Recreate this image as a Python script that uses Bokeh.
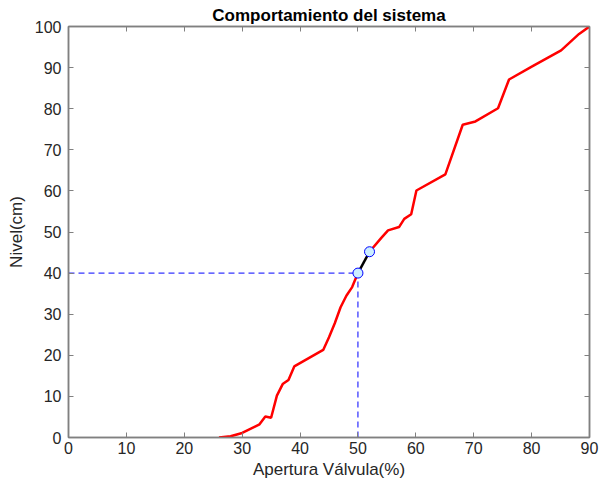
from bokeh.plotting import figure
from bokeh.models import LinearAxis, Range1d, FixedTicker
from bokeh.embed import file_html
from bokeh.resources import INLINE

apertura = [26, 28, 30, 33, 34, 35, 36, 37, 38, 39, 44, 45, 46, 47, 48, 49, 50]
nivel = [0, 0.3, 1.1, 3.2, 5.1, 4.8, 10.2, 13.0, 14.0, 17.3, 21.3, 24.4, 27.8, 31.7, 34.5, 36.6, 40.0]
apertura2 = [52, 54, 55.2, 57.1, 58, 59.2, 60.1, 65.1, 68.1, 70.3, 74.2, 76.1, 80.1, 85.1, 88.2, 90]
nivel2 = [45.2, 48.5, 50.4, 51.2, 53.2, 54.3, 60.1, 64.0, 76.1, 76.9, 80.1, 87.1, 90.3, 94.2, 98.2, 100]
punto_x = [50, 52]
punto_y = [40, 45.2]
ref_x = 50
ref_y = 40
xticks = [0, 10, 20, 30, 40, 50, 60, 70, 80, 90]
yticks = [0, 10, 20, 30, 40, 50, 60, 70, 80, 90, 100]

FONT = "Liberation Sans"
TXT = "#262626"
AX = "#808080"

p = figure(width=599, height=488, output_backend="svg", toolbar_location=None,
           x_range=Range1d(0, 90), y_range=Range1d(0, 100),
           title="Comportamiento del sistema",
           min_border_left=68, min_border_right=10, min_border_top=26, min_border_bottom=51)

p.title.align = "center"
p.title.text_font = FONT
p.title.text_font_size = "17px"
p.title.text_font_style = "bold"
p.title.text_color = "#000000"
p.title.offset = 0
p.title.standoff = 3

p.xgrid.visible = False
p.ygrid.visible = False
p.outline_line_color = AX
p.outline_line_width = 1.5

for ax, ticks in ((p.xaxis[0], xticks), (p.yaxis[0], yticks)):
    ax.ticker = FixedTicker(ticks=ticks)
    ax.axis_line_color = AX
    ax.axis_line_width = 1.5
    ax.major_tick_line_color = AX
    ax.major_tick_in = 5
    ax.major_tick_out = 0
    ax.minor_tick_line_color = None
    ax.major_label_text_font = FONT
    ax.major_label_text_font_size = "16px"
    ax.major_label_text_color = TXT
    ax.axis_label_text_font = FONT
    ax.axis_label_text_font_size = "17px"
    ax.axis_label_text_font_style = "normal"
    ax.axis_label_text_color = TXT

p.xaxis[0].axis_label = "Apertura Válvula(%)"
p.yaxis[0].axis_label = "Nivel(cm)"
p.xaxis[0].major_label_standoff = 4
p.yaxis[0].major_label_standoff = 7
p.xaxis[0].axis_label_standoff = 3
p.yaxis[0].axis_label_standoff = 6

for loc, ticks in (("right", yticks), ("above", xticks)):
    a = LinearAxis(ticker=FixedTicker(ticks=ticks))
    a.axis_line_color = AX
    a.axis_line_width = 1.5
    a.major_tick_line_color = AX
    a.major_tick_in = 5
    a.major_tick_out = 0
    a.minor_tick_line_color = None
    a.major_label_text_font_size = "0px"
    a.major_label_standoff = 0
    p.add_layout(a, loc)

# guide lines
p.line([0, ref_x], [ref_y, ref_y], line_color="#0000ff", line_dash="6 4", line_width=1)
p.line([ref_x, ref_x], [0, ref_y], line_color="#0000ff", line_dash="6 4", line_width=1)

p.line(apertura, nivel, line_color="#ff0000", line_width=2.5)
p.line(apertura2, nivel2, line_color="#ff0000", line_width=2.5)
p.line(punto_x, punto_y, line_color="#000000", line_width=2.5)
p.scatter(punto_x, punto_y, size=10, fill_color="#cceeff", line_color="#0000ff", line_width=1)

open("out.html", "w").write(file_html(p, INLINE))
